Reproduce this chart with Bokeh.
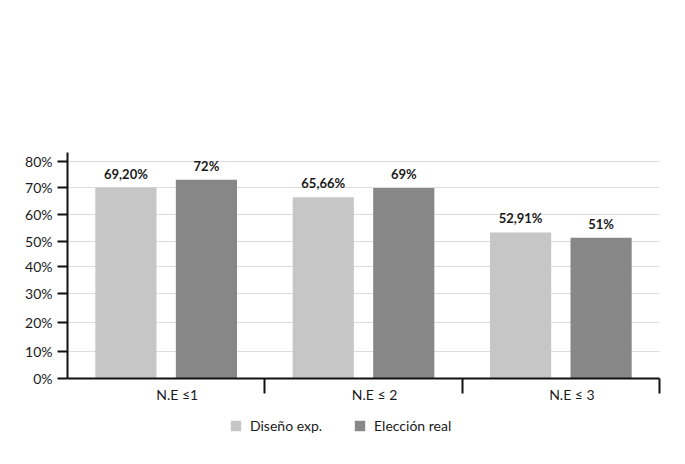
from bokeh.plotting import figure
from bokeh.layouts import column
from bokeh.models import (Range1d, FixedTicker, Legend, LegendItem,
                          CustomJSTickFormatter)
from bokeh.core.properties import value
from bokeh.embed import file_html
from bokeh.resources import INLINE

# ---- data ----
categories = ["N.E ≤1", "N.E ≤ 2", "N.E ≤ 3"]
series_names = ["Diseño exp.", "Elección real"]
diseno_exp = [69.20, 65.66, 52.91]
eleccion_real = [72, 69, 51]
diseno_labels = ["69,20%", "65,66%", "52,91%"]
eleccion_labels = ["72%", "69%", "51%"]
y_tick_values = [0, 9.9, 20.3, 30.7, 40.6, 49.7, 59.4, 69.3, 78.6]
y_tick_labels = ["0%", "10%", "20%", "30%", "40%", "50%", "60%", "70%", "80%"]

# ---- style ----
FONT = "Lato"
LIGHT = "#c6c6c6"
DARK = "#878787"
TXT = "#1a1a1a"
W = 669

p = figure(width=W, height=412,
           x_range=Range1d(0, len(categories)), y_range=Range1d(0, 81.9),
           output_backend="svg", toolbar_location=None,
           min_border_left=67, min_border_right=10,
           min_border_top=152, min_border_bottom=34)
p.outline_line_color = None
p.background_fill_color = "white"
p.border_fill_color = "white"

n = len(categories)
centers = [i + 0.5 for i in range(n)]
off = 0.204
bw = 0.31
x_light = [c - off for c in centers]
x_dark = [c + off for c in centers]

r1 = p.vbar(x=x_light, top=diseno_exp, width=bw, fill_color=LIGHT, line_color=None)
r2 = p.vbar(x=x_dark, top=eleccion_real, width=bw, fill_color=DARK, line_color=None)

p.text(x=x_light, y=diseno_exp, text=diseno_labels, text_align="center",
       text_baseline="bottom", y_offset=-6, text_font=value(FONT),
       text_font_style="bold", text_font_size="13px", text_color=TXT)
p.text(x=x_dark, y=eleccion_real, text=eleccion_labels, text_align="center",
       text_baseline="bottom", y_offset=-6, text_font=value(FONT),
       text_font_style="bold", text_font_size="13px", text_color=TXT)

# grid
p.xgrid.visible = False
p.ygrid.ticker = FixedTicker(ticks=y_tick_values)
p.ygrid.grid_line_color = "#dcdcdc"
p.ygrid.grid_line_width = 1

nearest_js = """
    let best = 0, d = 1e9;
    for (let i = 0; i < vals.length; i++) {
      const dd = Math.abs(vals[i] - tick);
      if (dd < d) { d = dd; best = i; }
    }
    return labs[best];
"""

# y axis
yax = p.yaxis[0]
yax.ticker = FixedTicker(ticks=y_tick_values)
yax.formatter = CustomJSTickFormatter(args=dict(vals=y_tick_values, labs=y_tick_labels),
                                      code=nearest_js)
yax.axis_line_width = 2
yax.axis_line_color = "#111111"
yax.major_tick_line_width = 2
yax.major_tick_line_color = "#111111"
yax.major_tick_out = 10
yax.major_tick_in = 0
yax.minor_tick_out = 0
yax.minor_tick_in = 0
yax.major_label_standoff = 5
yax.major_label_text_font = FONT
yax.major_label_text_font_size = "14px"
yax.major_label_text_color = TXT

# x axis: group labels (slightly right of centre) + separators between groups
label_shift = 0.056
label_pos = [c + label_shift for c in centers]
xax = p.xaxis[0]
xax.ticker = FixedTicker(ticks=label_pos, minor_ticks=[i + 1 for i in range(n)])
xax.formatter = CustomJSTickFormatter(args=dict(vals=label_pos, labs=categories),
                                      code=nearest_js)
xax.axis_line_width = 2
xax.axis_line_color = "#111111"
xax.major_tick_out = 0
xax.major_tick_in = 0
xax.major_tick_line_color = None
xax.minor_tick_line_width = 2
xax.minor_tick_line_color = "#111111"
xax.minor_tick_out = 15
xax.minor_tick_in = 0
xax.major_label_standoff = -8
xax.major_label_text_font = FONT
xax.major_label_text_font_size = "14px"
xax.major_label_text_color = TXT

# ---- legend strip below the chart (its frame is aligned with the chart frame) ----
q = figure(width=W, height=36, x_range=Range1d(0, 1), y_range=Range1d(0, 1),
           output_backend="svg", toolbar_location=None,
           x_axis_location=None, y_axis_location=None,
           min_border_left=67, min_border_right=10, min_border_top=0, min_border_bottom=0)
q.grid.visible = False
q.outline_line_color = None
q.background_fill_color = "white"
q.border_fill_color = "white"
# legend-only renderers: zero-height bars, nothing visible in the strip
l1 = q.vbar(x=[0.5], top=[0], bottom=[0], width=0.01, fill_color=LIGHT, line_color=None)
l2 = q.vbar(x=[0.5], top=[0], bottom=[0], width=0.01, fill_color=DARK, line_color=None)

legend = Legend(items=[LegendItem(label=series_names[0], renderers=[l1]),
                       LegendItem(label=series_names[1], renderers=[l2])],
                location=(162, 14), orientation="horizontal",
                glyph_width=13, glyph_height=13, label_standoff=8, spacing=31,
                padding=0, margin=0, border_line_color=None,
                background_fill_alpha=0,
                label_text_font=FONT, label_text_font_size="14px",
                label_text_color=TXT)
q.add_layout(legend)

layout = column(p, q, spacing=0)
open("out.html", "w").write(file_html(layout, INLINE))
